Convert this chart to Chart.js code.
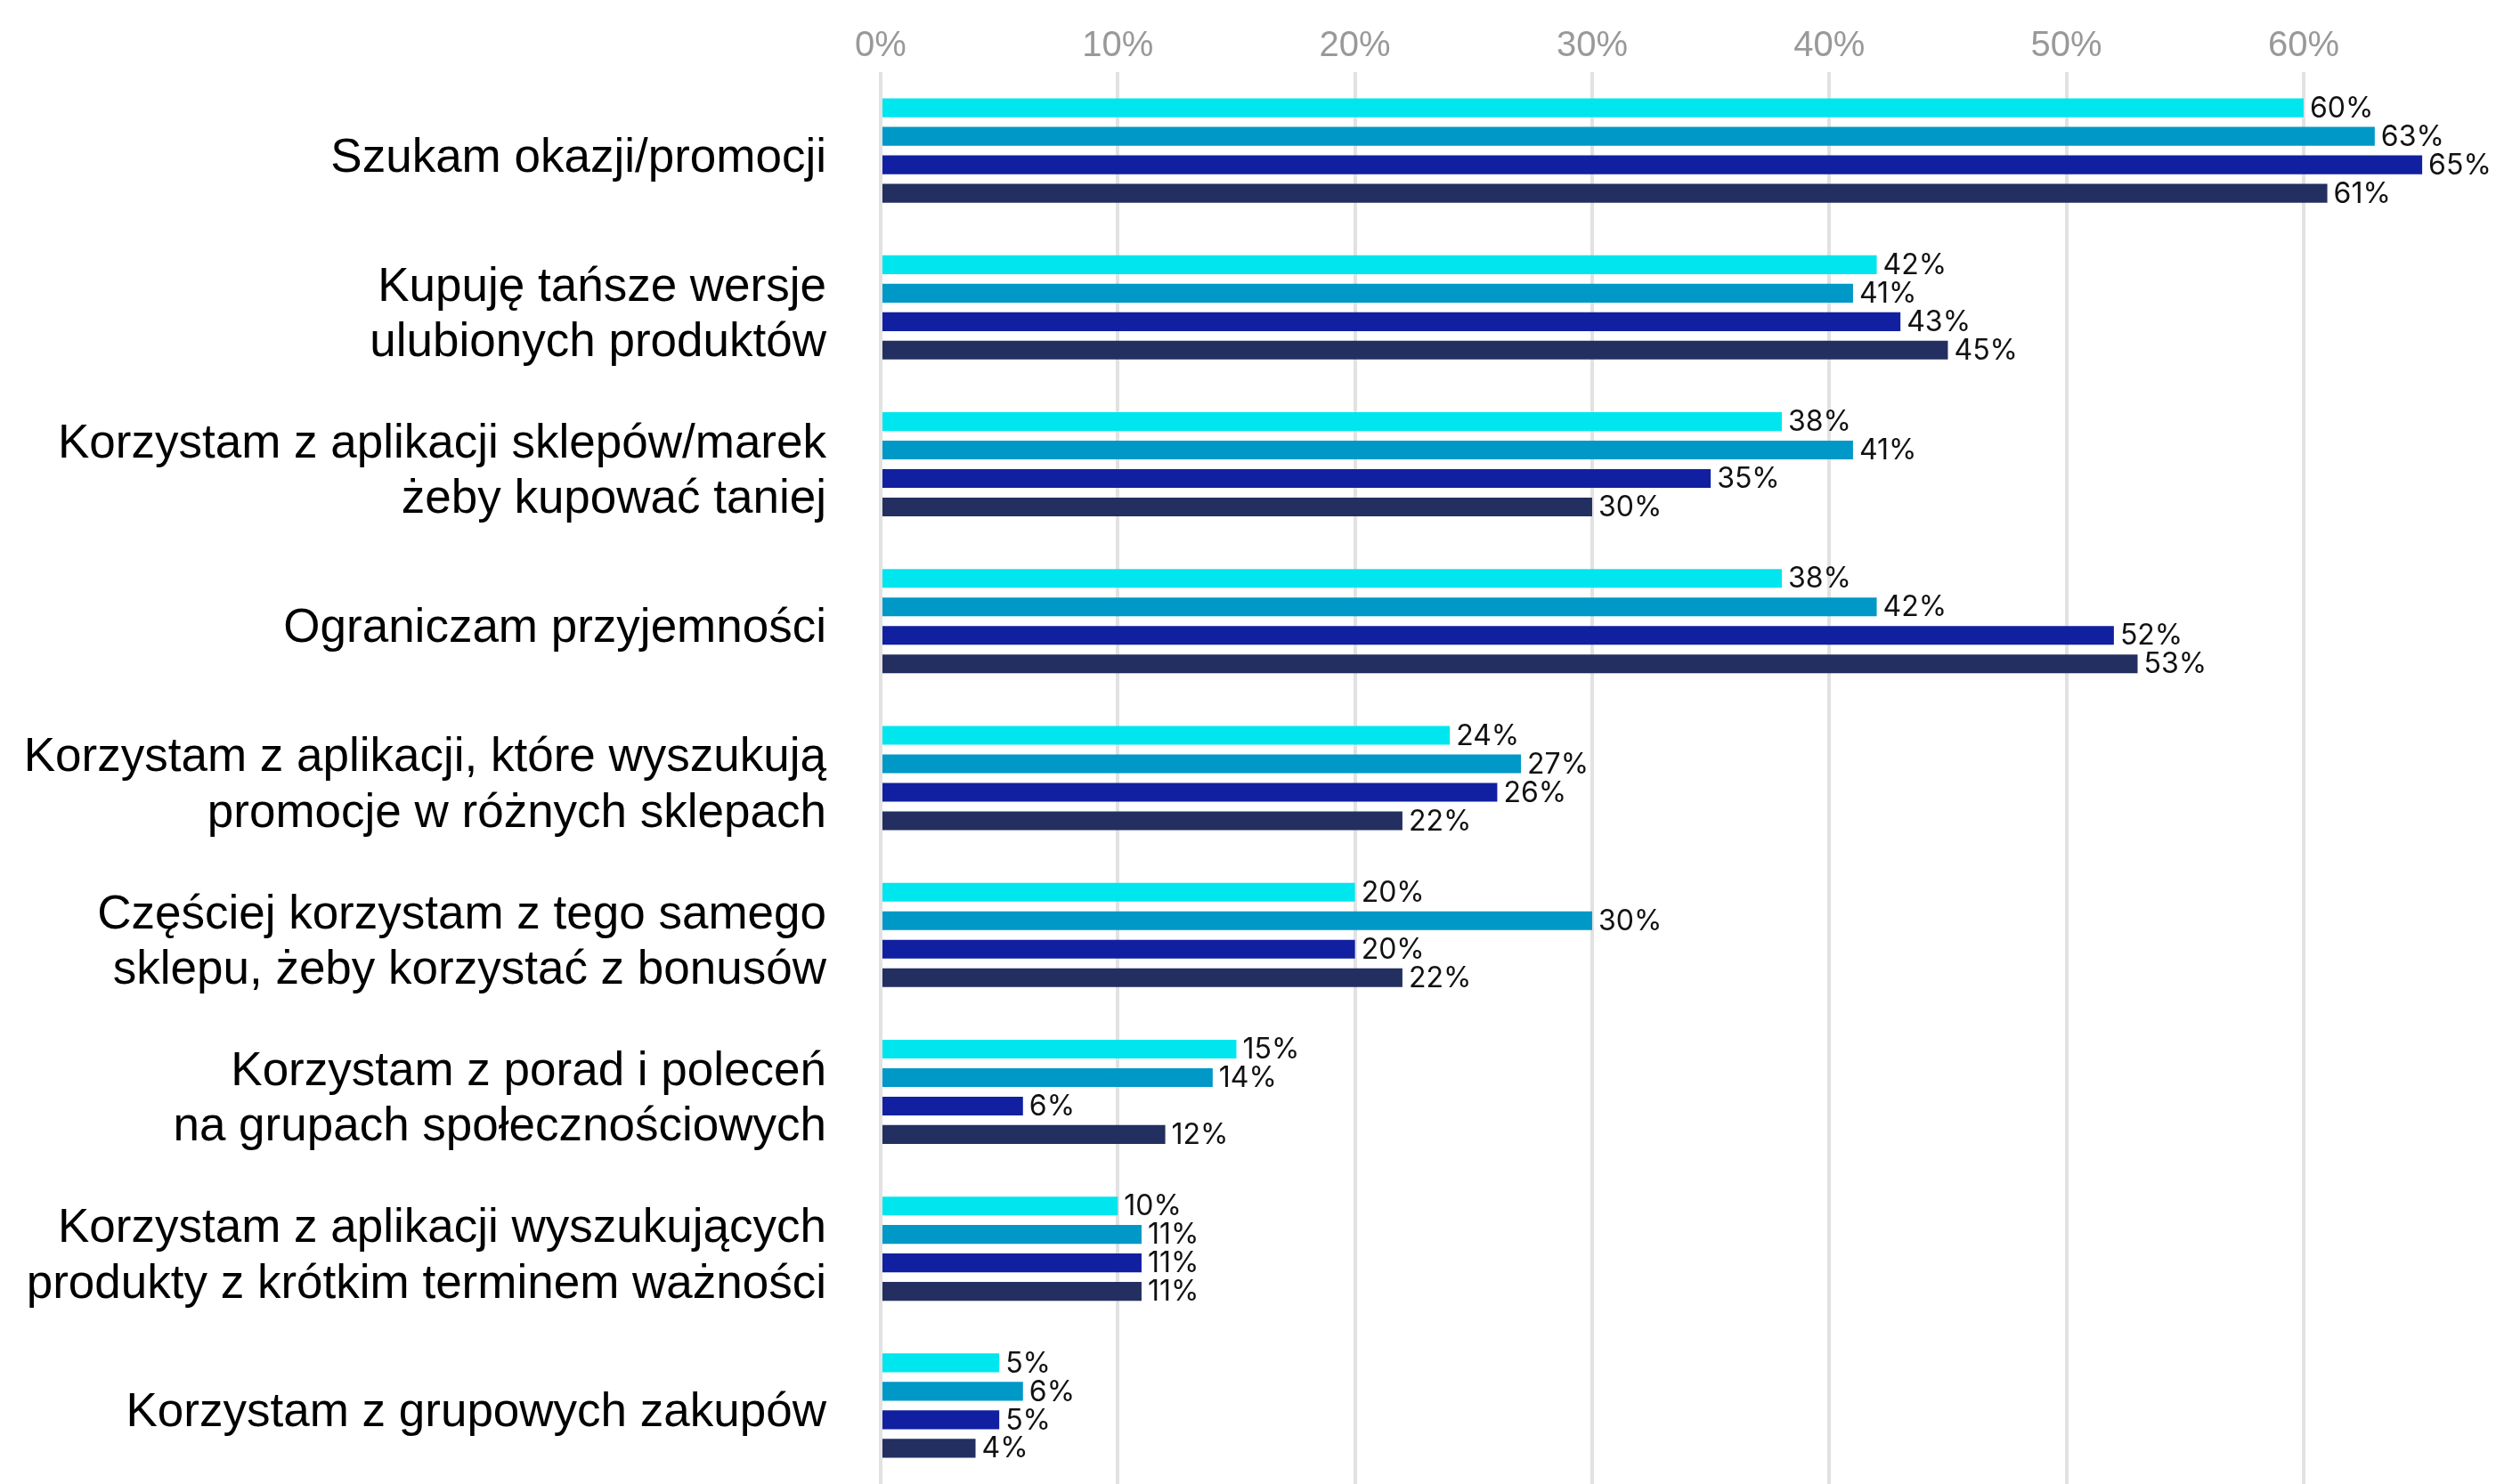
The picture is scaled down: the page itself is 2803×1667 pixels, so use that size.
<!DOCTYPE html>
<html>
<head>
<meta charset="utf-8">
<script src="https://cdn.jsdelivr.net/npm/chart.js@4"></script>
<style>
  html, body { margin: 0; padding: 0; background: #fff; }
  #wrap { width: 2803px; height: 1667px; }
</style>
</head>
<body>
<div id="wrap"><canvas id="myChart"></canvas></div>
<script>
const categories = [
    "Szukam okazji/promocji",
    ["Kupuję tańsze wersje", "ulubionych produktów"],
    ["Korzystam z aplikacji sklepów/marek", "żeby kupować taniej"],
    "Ograniczam przyjemności",
    ["Korzystam z aplikacji, które wyszukują", "promocje w różnych sklepach"],
    ["Częściej korzystam z tego samego", "sklepu, żeby korzystać z bonusów"],
    ["Korzystam z porad i poleceń", "na grupach społecznościowych"],
    ["Korzystam z aplikacji wyszukujących", "produkty z krótkim terminem ważności"],
    "Korzystam z grupowych zakupów"
];

const series1 = [60, 42, 38, 38, 24, 20, 15, 10, 5];
const series2 = [63, 41, 41, 42, 27, 30, 14, 11, 6];
const series3 = [65, 43, 35, 52, 26, 20, 6, 11, 5];
const series4 = [61, 45, 30, 53, 22, 22, 12, 11, 4];

const colors = ['#00e6ee', '#0098c7', '#1120a0', '#232f60'];

// percentage text at the end of each bar
const valueLabels = {
    id: 'valueLabels',
    afterDatasetsDraw(chart) {
        const { ctx } = chart;
        ctx.save();
        ctx.font = '32px Inter';
        ctx.fillStyle = '#111';
        ctx.textAlign = 'left';
        ctx.textBaseline = 'middle';
        chart.data.datasets.forEach((ds, i) => {
            chart.getDatasetMeta(i).data.forEach((bar, j) => {
                ctx.fillText(ds.data[j] + '%', bar.x + 7, bar.y + 1);
            });
        });
        ctx.restore();
    }
};

const ctx = document.getElementById('myChart').getContext('2d');
new Chart(ctx, {
    type: 'bar',
    data: {
        labels: categories,
        datasets: [series1, series2, series3, series4].map((data, i) => ({
            data,
            backgroundColor: colors[i],
            borderWidth: 0,
            categoryPercentage: 0.726,
            barPercentage: 0.66
        }))
    },
    options: {
        indexAxis: 'y',
        responsive: true,
        maintainAspectRatio: false,
        animation: false,
        layout: { padding: { right: 3 } },
        plugins: {
            legend: { display: false },
            tooltip: { enabled: false }
        },
        scales: {
            x: {
                position: 'top',
                min: 0,
                max: 68,
                afterFit: scale => { scale.height = 81; },
                border: { display: false },
                grid: { color: '#e2e2e2', lineWidth: 4, drawTicks: false },
                ticks: {
                    stepSize: 10,
                    includeBounds: false,
                    padding: 5,
                    color: '#999',
                    font: { family: 'Liberation Sans', size: 40 },
                    callback: v => v + '%'
                }
            },
            y: {
                afterFit: scale => {
                    scale.width = 989;
                    scale.paddingTop = 0;
                    scale.paddingBottom = 0;
                },
                border: { display: false },
                grid: { display: false },
                ticks: {
                    padding: 53,
                    labelOffset: 9,
                    color: '#000',
                    font: { family: 'Liberation Sans', size: 53, lineHeight: 1.18 }
                }
            }
        }
    },
    plugins: [valueLabels]
});
</script>
</body>
</html>
